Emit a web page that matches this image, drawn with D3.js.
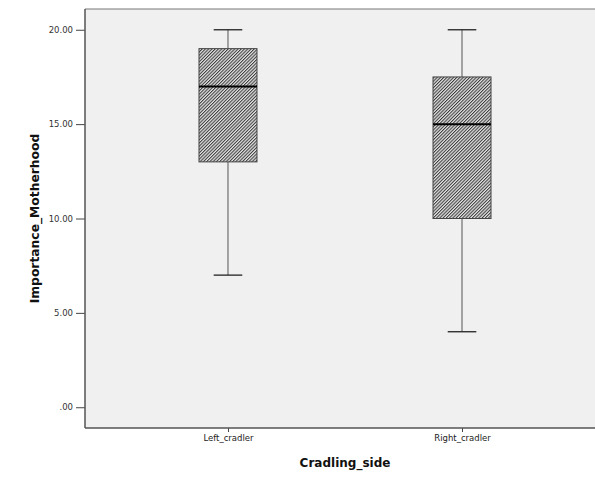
<!DOCTYPE html>
<html><head><meta charset="utf-8">
<script src="https://cdn.jsdelivr.net/npm/d3@7"></script>
<style>body{margin:0;background:#fff;overflow:hidden}svg{display:block}</style>
</head><body>
<script>
const categories = ["Left_cradler", "Right_cradler"];
const minVals = [7, 4];
const q1Vals = [13, 10];
const medianVals = [17, 15];
const q3Vals = [19, 17.5];
const maxVals = [20, 20];
const yTicks = [0, 5, 10, 15, 20];

const W = 595, H = 479;
const L = 85, R = 605, T = 9, B = 428;
const svg = d3.select("body").append("svg").attr("width", W).attr("height", H);

const defs = svg.append("defs");
const ps = 2.3;
const pat = defs.append("pattern").attr("id", "hatch").attr("patternUnits", "userSpaceOnUse")
  .attr("width", ps).attr("height", ps).attr("patternTransform", "rotate(45)");
pat.append("rect").attr("width", ps).attr("height", ps).attr("fill", "#e4e4e4");
pat.append("line").attr("x1", 0.5).attr("y1", 0).attr("x2", 0.5).attr("y2", ps)
  .attr("stroke", "#3a3a3a").attr("stroke-width", 1.05);

const x = d3.scalePoint().domain(categories).range([L, R]).padding(0.611);
const y = d3.scaleLinear().domain([-1.1, 21.1]).range([B, T]);

svg.append("rect").attr("x", L).attr("y", T).attr("width", R - L).attr("height", B - T)
  .attr("fill", "#f0f0f0");

const data = categories.map((c, i) => ({c, min: minVals[i], q1: q1Vals[i], med: medianVals[i], q3: q3Vals[i], max: maxVals[i]}));
const bw = 58, cw = 28.6;
const g = svg.append("g");
data.forEach(d => {
  const cx = x(d.c);
  g.append("line").attr("x1", cx).attr("x2", cx).attr("y1", y(d.max)).attr("y2", y(d.q3)).attr("stroke", "#555").attr("stroke-width", 1);
  g.append("line").attr("x1", cx).attr("x2", cx).attr("y1", y(d.q1)).attr("y2", y(d.min)).attr("stroke", "#555").attr("stroke-width", 1);
  g.append("line").attr("x1", cx - cw/2).attr("x2", cx + cw/2).attr("y1", y(d.max)).attr("y2", y(d.max)).attr("stroke", "#222").attr("stroke-width", 1.3);
  g.append("line").attr("x1", cx - cw/2).attr("x2", cx + cw/2).attr("y1", y(d.min)).attr("y2", y(d.min)).attr("stroke", "#222").attr("stroke-width", 1.3);
  g.append("rect").attr("x", cx - bw/2).attr("y", y(d.q3)).attr("width", bw).attr("height", y(d.q1) - y(d.q3))
    .attr("fill", "url(#hatch)").attr("stroke", "#444").attr("stroke-width", 1);
  g.append("line").attr("x1", cx - bw/2).attr("x2", cx + bw/2).attr("y1", y(d.med)).attr("y2", y(d.med)).attr("stroke", "#000").attr("stroke-width", 2);
});

svg.append("line").attr("x1", L).attr("x2", R).attr("y1", T).attr("y2", T).attr("stroke", "#777").attr("stroke-width", 1);

const yAxis = svg.append("g").attr("transform", `translate(${L},0)`)
  .call(d3.axisLeft(y).tickValues(yTicks).tickSize(9).tickPadding(3).tickFormat(d => d === 0 ? ".00" : d3.format(".2f")(d)));
yAxis.select(".domain").remove();
yAxis.selectAll(".tick line").attr("stroke", "#444");
yAxis.selectAll("text").attr("font-family", "DejaVu Sans, sans-serif").attr("font-size", 8.5).attr("fill", "#333");

const xAxis = svg.append("g").attr("transform", `translate(0,${B})`)
  .call(d3.axisBottom(x).tickSize(4).tickPadding(3));
xAxis.select(".domain").remove();
xAxis.selectAll(".tick line").attr("stroke", "#444");
xAxis.selectAll("text").attr("font-family", "DejaVu Sans, sans-serif").attr("font-size", 8.5).attr("fill", "#222");

svg.append("line").attr("x1", L).attr("x2", L).attr("y1", T).attr("y2", B).attr("stroke", "#555").attr("stroke-width", 1.5);
svg.append("line").attr("x1", L).attr("x2", R).attr("y1", B).attr("y2", B).attr("stroke", "#555").attr("stroke-width", 1.5);

svg.append("text").attr("x", (L + R) / 2).attr("y", 467).attr("text-anchor", "middle")
  .attr("font-family", "DejaVu Sans, sans-serif").attr("font-weight", "bold").attr("font-size", 12).attr("fill", "#111")
  .text("Cradling_side");
svg.append("text").attr("transform", `translate(39,${(T + B) / 2}) rotate(-90)`).attr("text-anchor", "middle")
  .attr("font-family", "DejaVu Sans, sans-serif").attr("font-weight", "bold").attr("font-size", 12.3).attr("fill", "#111")
  .text("Importance_Motherhood");
</script>
</body></html>
